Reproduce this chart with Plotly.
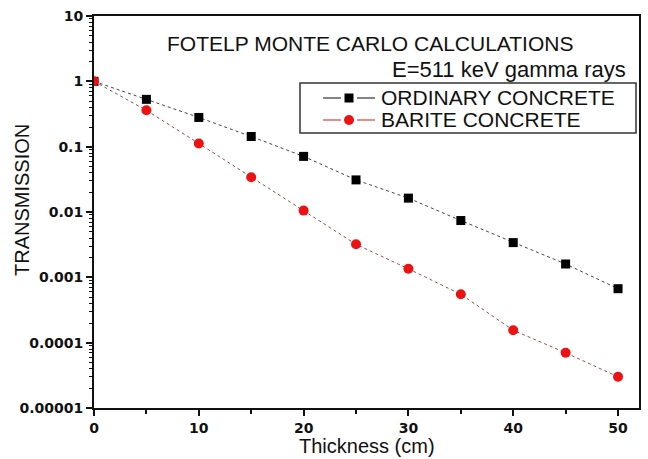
import plotly.graph_objects as go

thickness = [0, 5, 10, 15, 20, 25, 30, 35, 40, 45, 50]
ordinary = [1, 0.53, 0.28, 0.143, 0.071, 0.031, 0.0163, 0.0074, 0.0034, 0.0016, 0.00067]
barite = [1, 0.36, 0.112, 0.034, 0.0105, 0.0032, 0.00135, 0.00055, 0.000155, 0.00007, 0.00003]
series_names = ["ORDINARY CONCRETE", "BARITE CONCRETE"]
y_tickvals = [1e-5, 1e-4, 1e-3, 1e-2, 1e-1, 1, 10]
y_ticktext = ["0.00001", "0.0001", "0.001", "0.01", "0.1", "1", "10"]
x_tickvals = [0, 10, 20, 30, 40, 50]

TXT = "Liberation Sans, Arial, sans-serif"
TICK = dict(family="DejaVu Sans", size=14, color="#111", weight="bold")

W, H = 648, 459
L, R, T, B = 94, 9, 16, 51
PW, PH = W - L - R, H - T - B


def px(x):
    return (x - L) / PW


def py(y):
    return (H - B - y) / PH


styles = [
    dict(line=dict(color="#444", width=1, dash="dot"),
         marker=dict(symbol="square", size=9, color="black"),
         key_line="#333", key_mark="black", key_shape="rect"),
    dict(line=dict(color="#9a4a4a", width=1, dash="dot"),
         marker=dict(symbol="circle", size=10, color="#ee1111"),
         key_line="#d04040", key_mark="#ee1111", key_shape="circle"),
]

fig = go.Figure()
for name, vals, st in zip(series_names, [ordinary, barite], styles):
    fig.add_trace(go.Scatter(
        x=thickness, y=vals, mode="lines+markers", name=name,
        line=st["line"], marker=st["marker"], showlegend=False,
    ))

fig.update_layout(
    width=W, height=H,
    margin=dict(l=L, r=R, t=T, b=B),
    paper_bgcolor="white", plot_bgcolor="white",
    font=dict(family=TXT, color="#111"),
    showlegend=False,
)
fig.update_xaxes(
    range=[0, 52], tickmode="array", tickvals=x_tickvals,
    showline=True, linecolor="#111", linewidth=2, mirror=True,
    ticks="outside", ticklen=6, tickwidth=1.5, tickcolor="#111",
    minor=dict(ticks="outside", ticklen=4, tickwidth=1.5, tickcolor="#111", dtick=5, showgrid=False),
    showgrid=False, zeroline=False, tickfont=TICK, automargin=False,
)
fig.update_yaxes(
    type="log", range=[-5, 1], tickmode="array", tickvals=y_tickvals, ticktext=y_ticktext,
    showline=True, linecolor="#111", linewidth=2, mirror=True,
    ticks="outside", ticklen=6, tickwidth=1.5, tickcolor="#111",
    minor=dict(ticks="outside", ticklen=3, tickwidth=1, tickcolor="#111", dtick="D1", showgrid=False),
    showgrid=False, zeroline=False, tickfont=TICK, automargin=False,
)

# legend box (drawn to match the reference's compact key)
fig.add_shape(type="rect", xref="paper", yref="paper",
              x0=px(300), x1=px(636), y0=py(133), y1=py(83),
              line=dict(color="#333", width=1.5), fillcolor="white", layer="above")
for i, (name, st) in enumerate(zip(series_names, styles)):
    yc = 98 + 22 * i
    for x0, x1 in [(323, 341), (357, 375)]:
        fig.add_shape(type="line", xref="paper", yref="paper",
                      x0=px(x0), x1=px(x1), y0=py(yc), y1=py(yc),
                      line=dict(color=st["key_line"], width=1.2), layer="above")
    r = 4.5 if st["key_shape"] == "rect" else 5
    fig.add_shape(type=st["key_shape"], xref="paper", yref="paper",
                  x0=px(349 - r), x1=px(349 + r), y0=py(yc + r), y1=py(yc - r),
                  line=dict(color=st["key_mark"], width=0), fillcolor=st["key_mark"], layer="above")
    fig.add_annotation(text=name, xref="paper", yref="paper",
                       x=px(379), y=py(yc), xanchor="left", yanchor="middle",
                       showarrow=False, font=dict(family=TXT, size=21, color="#111"))

fig.add_annotation(text="FOTELP MONTE CARLO CALCULATIONS", xref="paper", yref="paper",
                   x=px(370), y=py(43), xanchor="center", yanchor="middle",
                   showarrow=False, font=dict(family=TXT, size=21, color="#111"))
fig.add_annotation(text="E=511 keV gamma rays", xref="paper", yref="paper",
                   x=px(628), y=py(69), xanchor="right", yanchor="middle",
                   showarrow=False, font=dict(family=TXT, size=22, color="#111"))
fig.add_annotation(text="TRANSMISSION", xref="paper", yref="paper",
                   x=px(22), y=py(200), xanchor="center", yanchor="middle",
                   textangle=-90, showarrow=False, font=dict(family=TXT, size=20, color="#111"))
fig.add_annotation(text="Thickness (cm)", xref="paper", yref="paper",
                   x=px(367), y=py(446), xanchor="center", yanchor="middle",
                   showarrow=False, font=dict(family=TXT, size=20, color="#111"))

fig.write_html("out.html",
               config={"displayModeBar": False},
               post_script="document.body.style.margin='0';document.body.style.overflow='hidden';")
